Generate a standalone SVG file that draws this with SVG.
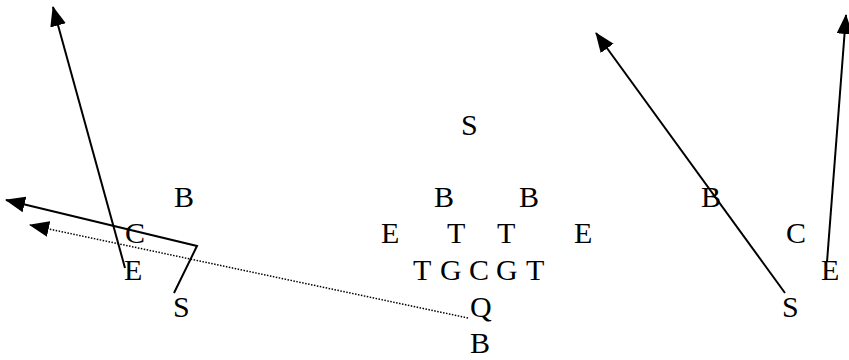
<svg xmlns="http://www.w3.org/2000/svg" width="849" height="360" viewBox="0 0 849 360">
  <style>
    text { font-family: "Liberation Serif", "Times New Roman", serif; font-size: 30px; fill: #000; }
    .route { fill: none; stroke: #000; stroke-width: 2; }
    .dot { fill: none; stroke: #000; stroke-width: 1.5; stroke-dasharray: 1.5 1.5; }
  </style>
  <defs>
    <marker id="ah" viewBox="0 0 20 16" markerWidth="20" markerHeight="16" refX="19" refY="8" orient="auto" markerUnits="userSpaceOnUse">
      <path d="M0,0 L20,8 L0,16 z" fill="#000"/>
    </marker>
  </defs>
  <rect width="849" height="360" fill="#fff"/>
  <g id="connectors">
    <line class="route" x1="125" y1="268" x2="53" y2="7" marker-end="url(#ah)"/>
    <polyline class="route" points="174,293 197,246 6,200" marker-end="url(#ah)"/>
    <line class="dot" x1="468" y1="318" x2="30" y2="225" marker-end="url(#ah)"/>
    <line class="route" x1="785" y1="293" x2="596" y2="33" marker-end="url(#ah)"/>
    <line class="route" x1="827" y1="262" x2="846" y2="15" marker-end="url(#ah)"/>
  </g>
  <g id="S1"><text x="461" y="135">S</text></g>
  <g id="B1"><text x="174" y="207">B</text></g>
  <g id="B2"><text x="434" y="207">B</text></g>
  <g id="B3"><text x="519" y="207">B</text></g>
  <g id="B4"><text x="701" y="207">B</text></g>
  <g id="C1"><text x="125" y="243">C</text></g>
  <g id="E1"><text x="381" y="243">E</text></g>
  <g id="T1"><text x="447" y="243">T</text></g>
  <g id="T2"><text x="497" y="243">T</text></g>
  <g id="E2"><text x="574" y="243">E</text></g>
  <g id="C2"><text x="786" y="243">C</text></g>
  <g id="E3"><text x="124" y="280">E</text></g>
  <g id="OT1"><text x="413" y="280">T</text></g>
  <g id="OG1"><text x="440" y="280">G</text></g>
  <g id="OC"><text x="469" y="280">C</text></g>
  <g id="OG2"><text x="496" y="280">G</text></g>
  <g id="OT2"><text x="526" y="280">T</text></g>
  <g id="E4"><text x="821" y="280">E</text></g>
  <g id="S2"><text x="173" y="317">S</text></g>
  <g id="Q"><text x="470" y="317">Q</text></g>
  <g id="S3"><text x="782" y="317">S</text></g>
  <g id="B5"><text x="470" y="353">B</text></g>
</svg>
